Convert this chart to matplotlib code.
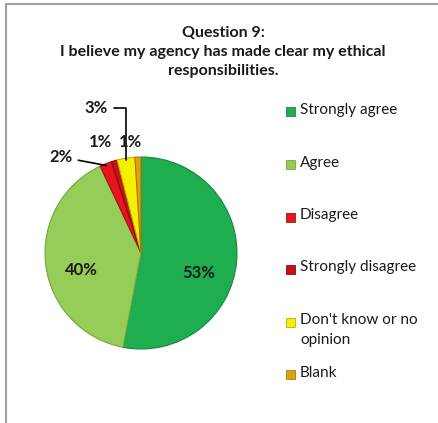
import matplotlib
matplotlib.use("Agg")
import matplotlib.pyplot as plt
import numpy as np
from matplotlib.patches import Rectangle
from matplotlib.lines import Line2D

title = "Question 9:\nI believe my agency has made clear my ethical\nresponsibilities."
categories = ["Strongly agree", "Agree", "Disagree", "Strongly disagree",
              "Don't know or no\nopinion", "Blank"]
values = [53, 40, 2, 1, 3, 1]
pct_labels = ["53%", "40%", "2%", "1%", "3%", "1%"]
colors = ["#1fae4f", "#96cc58", "#e8161b", "#c8101a", "#f4f000", "#dca213"]
edges = ["#128a3a", "#74a83c", "#a80f12", "#8a0a10", "#b8b000", "#a87a0a"]

W, H = 438, 423
fig = plt.figure(figsize=(W/100, H/100), dpi=100)
FONT = "Lato"

# frame lines (top and left)
fig.add_artist(Line2D([6/W, 1], [1-4/H, 1-4/H], color="#a0a0a0", lw=1.5, transform=fig.transFigure))
fig.add_artist(Line2D([6/W, 6/W], [0, 1-4/H], color="#a0a0a0", lw=1.5, transform=fig.transFigure))

# title
fig.text(223/W, 1-52/H, title, ha="center", va="center", fontsize=11.5,
         fontweight="bold", family=FONT, linespacing=1.45, color="#1a1a1a")

# pie axes centered at (141,253) px with radius 95 px
cx, cy, R = 141, 253, 95
half = 120
ax = fig.add_axes([(cx-half)/W, (H-cy-half)/H, 2*half/W, 2*half/H])
lim = half / R
ax.set_xlim(-lim, lim)
ax.set_ylim(-lim, lim)
ax.set_aspect("equal")
ax.axis("off")

wedges, _ = ax.pie(values, colors=colors, startangle=90, counterclock=False,
                   radius=1.0, wedgeprops=dict(linewidth=0.8))
for w, e in zip(wedges, edges):
    w.set_edgecolor(e)

def px2d(px, py):
    return ((px - cx) / R, (cy - py) / R)

def edge_point(w, r=1.0):
    a = np.deg2rad((w.theta1 + w.theta2) / 2)
    return (r*np.cos(a), r*np.sin(a))

tk = dict(fontsize=12, fontweight="bold", family=FONT, color="#1a1a1a",
          ha="center", va="center")
# inner labels
ax.text(*px2d(198, 273), pct_labels[0], **tk)
ax.text(*px2d(82, 270), pct_labels[1], **tk)
# outer labels
ax.annotate(pct_labels[2], xy=edge_point(wedges[2], 0.98), xytext=px2d(62, 158),
            arrowprops=dict(arrowstyle="-", color="black", lw=1.2, shrinkB=0), **tk)
ax.text(*px2d(101, 143), pct_labels[3], **tk)
ax.annotate(pct_labels[4], xy=edge_point(wedges[4], 0.98), xytext=px2d(97, 110),
            arrowprops=dict(arrowstyle="-", color="black", lw=1.2, shrinkB=0,
                            connectionstyle="angle,angleA=0,angleB=90,rad=0"), **tk)
ax.text(*px2d(131, 143), pct_labels[5], **tk)

# legend (manual)
y0, dy = 112, 52.5
for i, (lab, col, ec) in enumerate(zip(categories, colors, edges)):
    y = y0 + dy*i
    fig.add_artist(Rectangle(((290-4.5)/W, 1-(y+4.5)/H), 9/W, 9/H, facecolor=col,
                             edgecolor=ec, lw=0.6, transform=fig.transFigure))
    fig.text(300/W, 1-(y-9)/H, lab, ha="left", va="top", fontsize=11,
             family=FONT, linespacing=1.55, color="#1a1a1a")

fig.savefig("out.png", dpi=100, facecolor="white")
